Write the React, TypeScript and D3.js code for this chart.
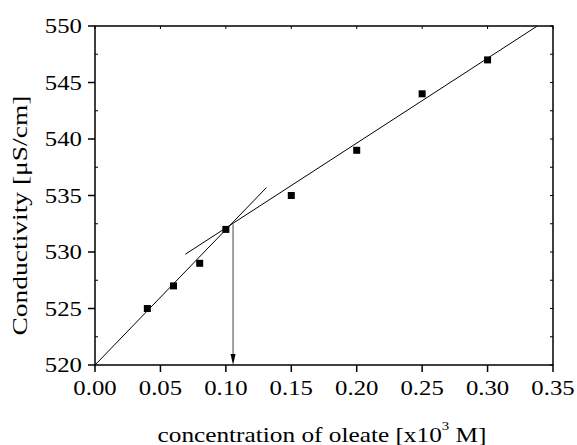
import React from "react";
import * as d3 from "d3";

const concentrations = [0.04, 0.06, 0.08, 0.1, 0.15, 0.2, 0.25, 0.3];
const conductivity = [525, 527, 529, 532, 535, 539, 544, 547];
const fitLow: [number, number][] = [[0, 520], [0.131, 535.7]];
const fitHigh: [number, number][] = [[0.069, 529.8], [0.338, 550]];
const cmcX = 0.1055;
const cmcY = 532.45;
const xTicks = [0, 0.05, 0.1, 0.15, 0.2, 0.25, 0.3, 0.35];
const yTicks = [520, 525, 530, 535, 540, 545, 550];
const yMinorTicks = [522.5, 527.5, 532.5, 537.5, 542.5, 547.5];

const W = 577, H = 445;
const L = 95, R = 553, T = 26, B = 365;
const FONT = "'Liberation Serif', 'Times New Roman', serif";

export default function App() {
  const x = d3.scaleLinear().domain([0, 0.35]).range([L, R]);
  const y = d3.scaleLinear().domain([520, 550]).range([B, T]);
  const line = d3.line<[number, number]>().x(d => x(d[0])).y(d => y(d[1]));
  const sx = 1.18;
  const ax = x(cmcX);
  return (
    <svg width={W} height={H} style={{ position: "absolute", left: 0, top: 0, background: "#fff" }}>
      <defs>
        <clipPath id="plot"><rect x={L} y={T} width={R - L} height={B - T} /></clipPath>
      </defs>
      {/* fit lines */}
      <g clipPath="url(#plot)">
        <path d={line(fitLow) || ""} fill="none" stroke="#000" strokeWidth={1} />
        <path d={line(fitHigh) || ""} fill="none" stroke="#000" strokeWidth={1} />
      </g>
      {/* arrow */}
      <line x1={ax} x2={ax} y1={y(cmcY)} y2={B - 8} stroke="#444" strokeWidth={1} />
      <path d={`M${ax - 2.5},${B - 11} L${ax + 2.5},${B - 11} L${ax},${B} Z`} fill="#000" />
      {/* markers */}
      {concentrations.map((c, i) => (
        <rect key={i} x={x(c) - 3.5} y={y(conductivity[i]) - 3.5} width={7} height={7} fill="#000" />
      ))}
      {/* frame */}
      <rect x={L} y={T} width={R - L} height={B - T} fill="none" stroke="#000" strokeWidth={1.5} />
      {/* bottom ticks + labels */}
      {xTicks.map((t, i) => (
        <g key={"xt" + i}>
          <line x1={x(t)} x2={x(t)} y1={B} y2={B + 7} stroke="#000" strokeWidth={1.5} />
          <line x1={x(t)} x2={x(t)} y1={T} y2={T + 3} stroke="#000" strokeWidth={1} />
          <g transform={`translate(${x(t)},395) scale(${sx},1)`}>
            <text textAnchor="middle" fontFamily={FONT} fontSize={21} fill="#000">{t.toFixed(2)}</text>
          </g>
        </g>
      ))}
      {/* left ticks + labels */}
      {yTicks.map((t, i) => (
        <g key={"yt" + i}>
          <line x1={L - 7} x2={L} y1={y(t)} y2={y(t)} stroke="#000" strokeWidth={1.5} />
          <line x1={R - 3} x2={R} y1={y(t)} y2={y(t)} stroke="#000" strokeWidth={1} />
          <g transform={`translate(82,${y(t) + 7.3}) scale(${sx},1)`}>
            <text textAnchor="end" fontFamily={FONT} fontSize={21} fill="#000">{t}</text>
          </g>
        </g>
      ))}
      {yMinorTicks.map((t, i) => (
        <g key={"ym" + i}>
          <line x1={L} x2={L + 3} y1={y(t)} y2={y(t)} stroke="#000" strokeWidth={1} />
          <line x1={R - 3} x2={R} y1={y(t)} y2={y(t)} stroke="#000" strokeWidth={1} />
        </g>
      ))}
      {/* axis titles */}
      <g transform={`translate(27,215.5) rotate(-90) scale(1.25,1)`}>
        <text textAnchor="middle" fontFamily={FONT} fontSize={22} fill="#000">Conductivity [μS/cm]</text>
      </g>
      <g transform={`translate(322,441.5) scale(1.15,1)`}>
        <text textAnchor="middle" fontFamily={FONT} fontSize={22} fill="#000">
          concentration of oleate [x10<tspan fontSize={13} dy={-12}>3</tspan><tspan dy={12}> M]</tspan>
        </text>
      </g>
    </svg>
  );
}
